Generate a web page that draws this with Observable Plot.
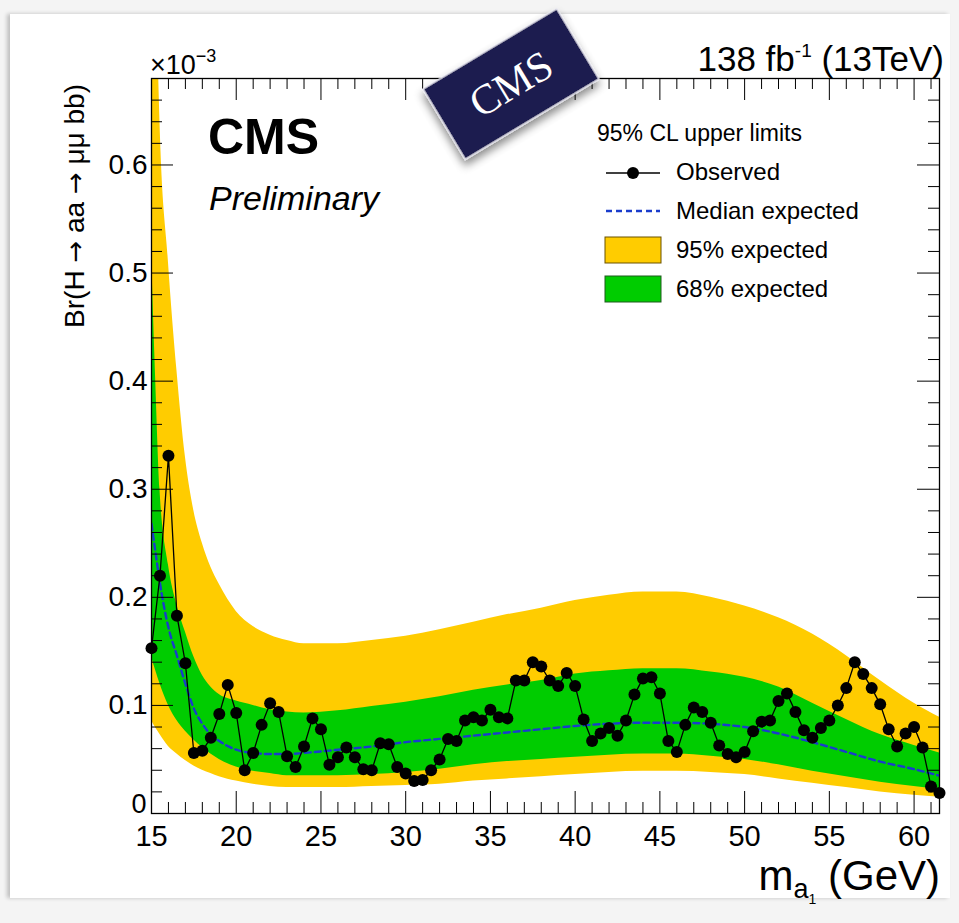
<!DOCTYPE html>
<html><head><meta charset="utf-8">
<script src="https://cdn.jsdelivr.net/npm/d3@7"></script>
<script src="https://cdn.jsdelivr.net/npm/@observablehq/plot@0.6"></script>
<style>
html,body{margin:0;padding:0;background:#f4f4f4;}
#wrap{position:relative;width:959px;height:923px;overflow:hidden;background:#f4f4f4;}
#card{position:absolute;left:10px;top:14px;width:940px;height:884px;background:#fff;box-shadow:-3px 0 4px rgba(0,0,0,0.22);}
#chart{position:absolute;left:0;top:0;}
</style></head><body>
<div id="wrap"><div id="card"></div><div id="chart"></div></div>
<script>
// ---- Observed 95% CL upper limit (x10^-3) ----
const massPoints = [15,15.5,16,16.5,17,17.5,18,18.5,19,19.5,20,20.5,21,21.5,22,22.5,23,23.5,24,24.5,25,25.5,26,26.5,27,27.5,28,28.5,29,29.5,30,30.5,31,31.5,32,32.5,33,33.5,34,34.5,35,35.5,36,36.5,37,37.5,38,38.5,39,39.5,40,40.5,41,41.5,42,42.5,43,43.5,44,44.5,45,45.5,46,46.5,47,47.5,48,48.5,49,49.5,50,50.5,51,51.5,52,52.5,53,53.5,54,54.5,55,55.5,56,56.5,57,57.5,58,58.5,59,59.5,60,60.5,61,61.5];
const observedLimit = [0.153,0.220,0.331,0.183,0.139,0.056,0.058,0.070,0.092,0.119,
  0.093,0.040,0.056,0.082,0.102,0.094,0.053,0.043,0.062,0.088,
  0.078,0.045,0.052,0.061,0.052,0.041,0.040,0.065,0.064,0.043,
  0.037,0.030,0.031,0.040,0.050,0.069,0.067,0.086,0.089,0.086,
  0.096,0.089,0.088,0.123,0.123,0.140,0.136,0.123,0.118,0.130,
  0.118,0.087,0.067,0.074,0.079,0.072,0.086,0.110,0.125,0.126,
  0.111,0.067,0.057,0.082,0.098,0.094,0.084,0.063,0.055,0.052,
  0.057,0.076,0.085,0.086,0.104,0.111,0.094,0.077,0.070,0.079,
  0.086,0.100,0.116,0.140,0.129,0.116,0.101,0.078,0.062,0.074,
  0.080,0.061,0.025,0.019];

// ---- Expected limit and bands (x10^-3) ----
const expMass   = [15,15.25,15.5,16,16.5,17,17.5,18,18.5,19,20,21,22,23,24,26,28,30,32,34,36,38,40,42,44,46,48,50,52,54,56,58,60,61.5];
const exp95Low  = [0.086,0.079,0.073,0.062,0.055,0.049,0.044,0.040,0.037,0.034,0.030,0.027,0.025,0.024,0.024,0.024,0.025,0.026,0.027,0.030,0.032,0.034,0.036,0.038,0.039,0.039,0.038,0.036,0.032,0.028,0.024,0.020,0.017,0.015];
const exp68Low  = [0.145,0.132,0.120,0.100,0.086,0.076,0.068,0.061,0.055,0.050,0.043,0.039,0.037,0.035,0.035,0.035,0.036,0.038,0.041,0.045,0.048,0.050,0.052,0.054,0.055,0.055,0.053,0.050,0.045,0.039,0.034,0.029,0.025,0.022];
const expMedian = [0.268,0.240,0.213,0.172,0.146,0.120,0.097,0.083,0.073,0.067,0.059,0.056,0.055,0.055,0.056,0.059,0.062,0.066,0.069,0.072,0.075,0.078,0.081,0.083,0.084,0.084,0.083,0.080,0.074,0.066,0.057,0.048,0.041,0.035];
const exp68High = [0.520,0.400,0.300,0.230,0.193,0.168,0.145,0.128,0.117,0.110,0.104,0.100,0.096,0.094,0.093,0.095,0.099,0.103,0.108,0.114,0.119,0.123,0.129,0.132,0.134,0.134,0.131,0.126,0.117,0.102,0.087,0.073,0.063,0.056];
const exp95High = [1.000,0.800,0.640,0.510,0.410,0.330,0.280,0.250,0.228,0.212,0.187,0.173,0.165,0.160,0.157,0.157,0.160,0.164,0.170,0.177,0.184,0.190,0.197,0.202,0.205,0.205,0.200,0.192,0.181,0.166,0.146,0.123,0.102,0.089];

// ---- Axis ticks ----
const xMajorTicks = [15,20,25,30,35,40,45,50,55,60];
const xTickLabels = ["15","20","25","30","35","40","45","50","55","60"];
const xMinorTicks = [16,17,18,19,21,22,23,24,26,27,28,29,31,32,33,34,36,37,38,39,41,42,43,44,46,47,48,49,51,52,53,54,56,57,58,59,61];
const yMajorTicks = [0,0.1,0.2,0.3,0.4,0.5,0.6];
const yTickLabels = ["0","0.1","0.2","0.3","0.4","0.5","0.6"];
const yMinorTicks = [0.02,0.04,0.06,0.08,0.12,0.14,0.16,0.18,0.22,0.24,0.26,0.28,0.32,0.34,0.36,0.38,0.42,0.44,0.46,0.48,0.52,0.54,0.56,0.58,0.62,0.64,0.66];

const observed = massPoints.map((m, i) => ({mass: m, limit: observedLimit[i]}));
const bands = expMass.map((m, i) => ({mass: m, lo95: exp95Low[i], lo68: exp68Low[i], med: expMedian[i], hi68: exp68High[i], hi95: exp95High[i]}));
const xTicks = xMajorTicks.map((v, i) => ({v, label: xTickLabels[i]}));
const yTicks = yMajorTicks.map((v, i) => ({v, label: yTickLabels[i]}));

const W = 959, H = 923, mL = 151, mR = 20, mT = 78, mB = 110;
const pW = W - mL - mR, pH = H - mT - mB;
const FONT = "'Liberation Sans', Arial, Helvetica, sans-serif";
const YELLOW = "#ffcc00", GREEN = "#00cc00", BLUE = "#1a3ccc";

const plot = Plot.plot({
  width: W, height: H,
  marginLeft: mL, marginRight: mR, marginTop: mT, marginBottom: mB,
  style: {background: "transparent", overflow: "visible", fontFamily: FONT},
  x: {domain: [15, 61.5], axis: null},
  y: {domain: [0, 0.68], axis: null},
  marks: [
    Plot.areaY(bands, {x: "mass", y1: "lo95", y2: "hi95", fill: YELLOW, curve: "monotone-x", clip: true}),
    Plot.areaY(bands, {x: "mass", y1: "lo68", y2: "hi68", fill: GREEN, curve: "monotone-x", clip: true}),
    Plot.line(bands, {x: "mass", y: "med", stroke: BLUE, strokeWidth: 2.4, strokeDasharray: "6,4", curve: "monotone-x", clip: true}),
    Plot.line(observed, {x: "mass", y: "limit", stroke: "black", strokeWidth: 1.3}),
    Plot.dot(observed, {x: "mass", y: "limit", r: 6, fill: "black", stroke: "none"}),
    Plot.frame({stroke: "black", strokeWidth: 1.3}),
    // inward ticks on all four sides (ROOT style)
    Plot.ruleX(xMajorTicks, {x: d => d, insetTop: pH - 22, stroke: "black"}),
    Plot.ruleX(xMajorTicks, {x: d => d, insetBottom: pH - 22, stroke: "black"}),
    Plot.ruleX(xMinorTicks, {x: d => d, insetTop: pH - 11, stroke: "black"}),
    Plot.ruleX(xMinorTicks, {x: d => d, insetBottom: pH - 11, stroke: "black"}),
    Plot.ruleY(yMajorTicks, {y: d => d, insetRight: pW - 22, stroke: "black"}),
    Plot.ruleY(yMajorTicks, {y: d => d, insetLeft: pW - 22, stroke: "black"}),
    Plot.ruleY(yMinorTicks, {y: d => d, insetRight: pW - 11, stroke: "black"}),
    Plot.ruleY(yMinorTicks, {y: d => d, insetLeft: pW - 11, stroke: "black"}),
    // tick labels
    Plot.text(xTicks, {x: "v", frameAnchor: "bottom", text: "label", dy: 12, lineAnchor: "top", fontSize: 29, fill: "black", fontFamily: FONT}),
    Plot.text(yTicks.filter(t => t.v !== 0), {y: "v", frameAnchor: "left", text: "label", dx: -4, textAnchor: "end", fontSize: 28, fill: "black", fontFamily: FONT}),
    Plot.text(yTicks.filter(t => t.v === 0), {y: "v", frameAnchor: "left", text: "label", dx: -5, dy: -9, textAnchor: "end", fontSize: 27, fill: "black", fontFamily: FONT})
  ]
});
document.getElementById("chart").appendChild(plot);

// ---- annotations ----
const svg = d3.select(plot);
const ann = svg.append("g").attr("font-family", FONT).attr("fill", "black").attr("text-anchor", "start");
const ARROWFONT = "'DejaVu Sans', sans-serif";

// y axis title
const yt = ann.append("text").attr("transform", "translate(84,84) rotate(-90)")
  .attr("text-anchor", "end").attr("font-size", 28);
yt.append("tspan").text("Br(H ");
yt.append("tspan").attr("font-family", ARROWFONT).attr("font-size", 26).text("→");
yt.append("tspan").text(" aa ");
yt.append("tspan").attr("font-family", ARROWFONT).attr("font-size", 26).text("→");
yt.append("tspan").text(" μμ bb)");

// x axis title m_{a_1} (GeV)
const xt = ann.append("text").attr("x", 940).attr("y", 890).attr("text-anchor", "end").attr("font-size", 42);
xt.append("tspan").text("m");
xt.append("tspan").attr("font-size", 27).attr("dy", 8).text("a");
xt.append("tspan").attr("font-size", 14).attr("dy", 6).text("1");
xt.append("tspan").attr("dy", -14).text(" (GeV)");

// x10^-3
const ex = ann.append("text").attr("x", 150).attr("y", 74).attr("font-size", 27);
ex.append("tspan").text("×10");
ex.append("tspan").attr("font-size", 18).attr("dy", -12).text("−3");

// luminosity label
const lu = ann.append("text").attr("x", 944).attr("y", 71).attr("text-anchor", "end").attr("font-size", 35);
lu.append("tspan").text("138 fb");
lu.append("tspan").attr("font-size", 19).attr("dy", -14).text("-1");
lu.append("tspan").attr("dy", 14).text(" (13TeV)");

// CMS Preliminary
ann.append("text").attr("x", 208).attr("y", 154).attr("font-size", 50).attr("font-weight", "bold").text("CMS");
ann.append("text").attr("x", 209).attr("y", 210).attr("font-size", 34).attr("font-style", "italic").text("Preliminary");

// legend
const lg = ann.append("g");
lg.append("text").attr("x", 597).attr("y", 141).attr("font-size", 23).text("95% CL upper limits");
lg.append("line").attr("x1", 606).attr("x2", 660).attr("y1", 173).attr("y2", 173).attr("stroke", "black").attr("stroke-width", 1.3);
lg.append("circle").attr("cx", 633).attr("cy", 173).attr("r", 6);
lg.append("text").attr("x", 676).attr("y", 180).attr("font-size", 24).text("Observed");
lg.append("line").attr("x1", 606).attr("x2", 660).attr("y1", 211).attr("y2", 211).attr("stroke", BLUE).attr("stroke-width", 2.4).attr("stroke-dasharray", "6,4");
lg.append("text").attr("x", 676).attr("y", 219).attr("font-size", 24).text("Median expected");
lg.append("rect").attr("x", 605).attr("y", 237).attr("width", 56).attr("height", 26).attr("fill", YELLOW).attr("stroke", "#6a5200").attr("stroke-width", 1);
lg.append("text").attr("x", 676).attr("y", 258).attr("font-size", 24).text("95% expected");
lg.append("rect").attr("x", 605).attr("y", 276).attr("width", 56).attr("height", 26).attr("fill", GREEN).attr("stroke", "#1f5a1f").attr("stroke-width", 1);
lg.append("text").attr("x", 676).attr("y", 297).attr("font-size", 24).text("68% expected");

// CMS badge
const defs = svg.append("defs");
const f = defs.append("filter").attr("id", "badgeShadow").attr("x", "-30%").attr("y", "-30%").attr("width", "160%").attr("height", "160%");
f.append("feDropShadow").attr("dx", -3).attr("dy", 5).attr("stdDeviation", 4).attr("flood-color", "#000").attr("flood-opacity", 0.45);
const badge = svg.append("g").attr("transform", "translate(511,84) rotate(-31)");
badge.append("rect").attr("x", -78).attr("y", -41).attr("width", 156).attr("height", 82)
  .attr("fill", "#1e1b50").attr("stroke", "#e8e8f0").attr("stroke-width", 1.5).attr("filter", "url(#badgeShadow)");
badge.append("text").attr("x", 0).attr("y", 14).attr("text-anchor", "middle")
  .attr("font-family", "'Liberation Serif', 'Times New Roman', serif").attr("font-size", 42).attr("fill", "white").text("CMS");
</script>
</body></html>
